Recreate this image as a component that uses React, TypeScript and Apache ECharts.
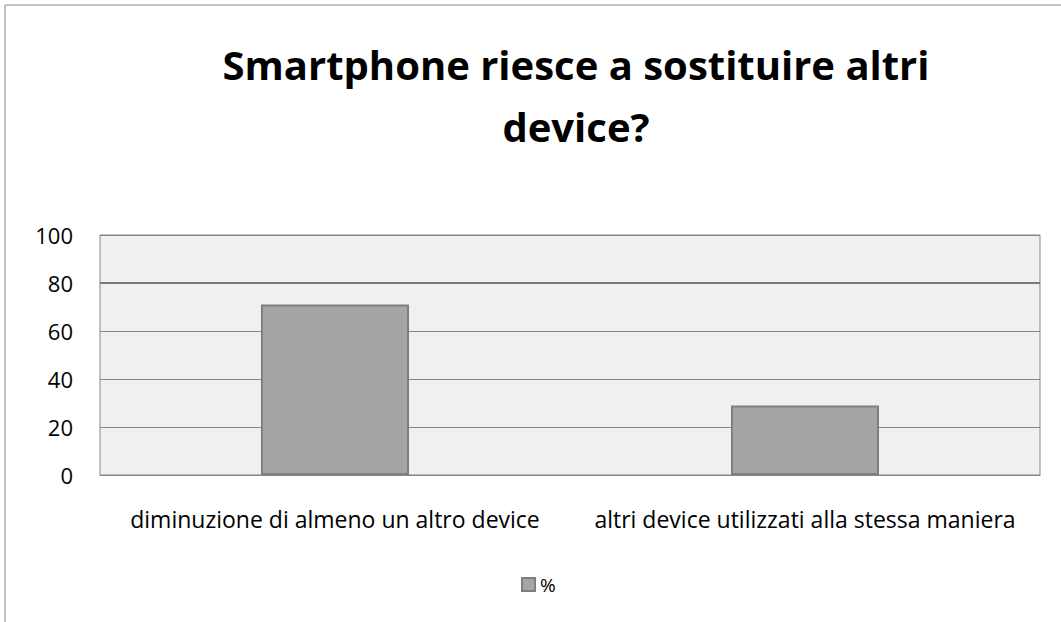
import React, { useEffect, useRef } from "react";
import * as echarts from "echarts";

const categories = ["diminuzione di almeno un altro device", "altri device utilizzati alla stessa maniera"];
const seriesName = "%";
const values = [71, 29];
const titleText = "Smartphone riesce a sostituire altri\ndevice?";

export default function App() {
  const ref = useRef<HTMLDivElement>(null);
  useEffect(() => {
    const chart = echarts.init(ref.current!, null, { renderer: "svg" });
    const font = "'Open Sans', sans-serif";
    chart.setOption({
      animation: false,
      backgroundColor: "#ffffff",
      graphic: [
        {
          type: "rect",
          shape: { x: 5, y: 5, width: 1100, height: 700 },
          style: { fill: "none", stroke: "#868686", lineWidth: 1 },
          silent: true,
        },
      ],
      title: {
        text: titleText,
        left: 571,
        textAlign: "center",
        top: 28,
        textStyle: { fontFamily: font, fontSize: 40, fontWeight: "bold", color: "#000", lineHeight: 62 },
      },
      legend: {
        bottom: 23,
        left: 516,
        itemWidth: 13,
        itemHeight: 13,
        itemGap: 7,
        textStyle: { fontFamily: font, fontSize: 19, color: "#000" },
        data: [{ name: seriesName, icon: "rect", itemStyle: { color: "#a5a5a5", borderColor: "#7f7f7f", borderWidth: 2 } }],
      },
      grid: {
        left: 100,
        right: 21,
        top: 235,
        bottom: 147,
        show: true,
        backgroundColor: "#f0f0f0",
        borderColor: "#868686",
        borderWidth: 1,
      },
      xAxis: {
        type: "category",
        data: categories,
        axisLine: { show: true, lineStyle: { color: "#868686" } },
        axisTick: { show: false },
        axisLabel: { interval: 0, fontFamily: font, fontSize: 23, color: "#000", margin: 32 },
      },
      yAxis: {
        type: "value",
        min: 0,
        max: 100,
        interval: 20,
        axisLine: { show: false },
        axisTick: { show: false },
        axisLabel: { fontFamily: font, fontSize: 22, color: "#000", margin: 27 },
        splitLine: { lineStyle: { color: "#868686", width: 1 } },
      },
      series: [
        {
          name: seriesName,
          type: "bar",
          data: values,
          barWidth: "31.5%",
          itemStyle: { color: "#a5a5a5", borderColor: "#7f7f7f", borderWidth: 2 },
          markLine: {
            silent: true,
            symbol: "none",
            label: { show: false },
            lineStyle: { color: "#7a7a7a", width: 2, type: "solid" },
            data: [{ yAxis: 80 }],
            z: 0,
          },
        },
      ],
    });
    return () => chart.dispose();
  }, []);
  return <div ref={ref} style={{ position: "absolute", left: 0, top: 0, width: 1061, height: 622 }} />;
}
